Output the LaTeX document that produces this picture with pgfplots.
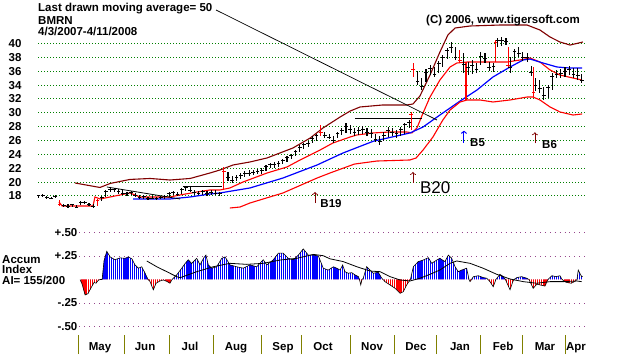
\documentclass[border=0pt]{standalone}
\usepackage{pgfplots}
\pgfplotsset{compat=1.18}
\usepackage{pgfplotstable}
\usepackage{fontspec}
\setmainfont{Liberation Sans}
\usetikzlibrary{patterns.meta,arrows.meta}

\definecolor{maroonband}{RGB}{128,0,0}
\definecolor{gridgreen}{RGB}{0,128,0}
\definecolor{sepolive}{RGB}{128,128,0}
\definecolor{aigrid}{RGB}{150,70,140}
\newcommand{\lbl}{\bfseries\fontsize{11.5}{12}\selectfont}

% trading day index d, low, high, close
\pgfplotstableread{
d l h c
0 17.7 18.2 18.0
2 17.8 18.3 18.1
4 17.6 18.0 17.8
6 17.5 17.9 17.7
8 17.7 18.1 17.9
12 16.4 16.9 16.6
14 16.3 16.8 16.5
16 16.4 16.9 16.7
18 16.2 16.7 16.4
20 16.7 17.2 17.0
22 16.8 17.3 17.1
24 16.5 17.0 16.7
26 16.3 16.8 16.5
30 17.3 18.0 17.8
32 17.8 18.8 18.6
34 18.5 19.3 19.0
36 18.6 19.2 18.9
38 18.3 19.0 18.7
40 18.2 18.8 18.4
42 18.0 18.6 18.3
44 18.1 18.7 18.5
46 17.8 18.4 18.0
48 17.6 18.2 17.8
50 17.6 18.1 17.9
52 17.4 17.9 17.6
54 17.5 18.0 17.7
56 17.4 17.9 17.6
58 17.5 18.0 17.8
60 17.6 18.1 17.9
62 17.9 18.6 18.4
64 18.1 18.7 18.5
66 18.0 18.6 18.2
68 18.3 19.2 19.0
70 18.7 19.5 19.2
72 18.5 19.3 18.8
74 18.2 18.9 18.5
76 18.1 18.7 18.4
78 18.2 18.9 18.6
80 18.0 18.7 18.3
82 18.2 18.9 18.5
84 18.1 18.8 18.4
86 18.0 18.6 18.3
90 20.2 21.5 20.6
92 19.9 20.9 20.2
94 20.1 21.0 20.6
96 20.5 21.3 21.0
98 20.8 21.6 21.2
100 20.9 21.7 21.3
102 21.0 21.8 21.4
104 21.1 21.9 21.5
106 21.2 22.0 21.7
108 21.6 22.5 22.2
110 22.0 22.8 22.5
112 22.1 22.9 22.6
114 22.2 23.0 22.7
116 22.6 23.4 23.1
118 22.9 23.8 23.5
120 23.3 24.1 23.8
122 23.8 24.7 24.4
124 24.4 25.3 25.0
126 24.8 25.7 25.4
128 25.1 25.9 25.6
130 25.6 26.6 26.3
132 26.0 27.0 26.7
136 26.3 27.2 26.7
138 26.2 27.0 26.5
140 25.7 26.6 26.0
142 26.3 27.3 27.0
144 26.8 27.8 27.5
146 27.1 28.5 28.0
148 27.0 28.3 27.6
150 26.6 27.8 27.2
152 26.8 28.0 27.5
154 27.0 28.1 27.6
156 26.6 27.8 27.1
158 26.4 27.6 27.0
160 25.8 27.0 26.2
162 25.4 26.6 25.9
164 26.0 27.2 26.8
166 26.5 27.9 27.5
168 26.6 27.8 27.1
170 26.3 27.5 27.0
172 26.6 28.0 27.6
174 26.9 28.6 28.3
176 27.8 29.0 28.6
180 34.0 36.0 34.5
182 33.3 35.0 33.8
184 34.5 36.3 35.8
186 35.5 36.9 36.4
188 35.2 36.6 35.5
190 35.7 37.5 37.1
192 36.6 38.3 38.0
194 37.8 39.4 39.0
196 38.6 40.2 39.5
198 37.6 39.5 38.0
202 35.8 38.6 37.0
204 35.5 37.4 36.5
206 35.6 37.6 36.8
208 35.8 37.2 36.3
210 36.9 38.8 38.2
212 37.2 38.6 37.8
214 36.0 37.3 36.5
216 35.9 37.2 36.7
218 39.5 40.8 40.4
220 39.7 41.0 40.5
222 39.8 40.8 40.3
224 35.8 38.0 36.5
226 37.5 39.2 38.8
228 38.0 39.5 38.6
230 37.5 38.8 38.0
232 37.3 38.6 38.0
234 35.3 36.8 35.8
236 33.2 35.0 34.0
238 32.9 34.7 33.5
240 31.8 33.7 32.5
242 32.2 34.0 33.6
244 33.3 35.8 35.3
246 35.0 36.2 35.6
248 35.0 36.3 35.7
250 35.2 36.6 36.0
252 35.4 36.8 36.2
254 35.0 36.5 35.6
256 34.8 36.5 35.4
258 34.3 35.6 34.6
}\bars

\pgfplotstableread{
d l h c
10 16.6 17.4 16.8
28 16.6 17.5 17.3
88 18.9 22.2 21.5
134 26.6 28.2 27.2
177 27.5 30.1 29.8
178 35.2 37.2 36.2
200 37.2 39.1 37.5
203 31.9 37.4 34.0
217 37.3 40.5 40.2
223 36.6 39.5 36.8
235 32.3 36.6 33.0
}\redbars

\pgfplotstableread{
d v
19.7 0
20.7 -0.05
22.1 -0.165
23.5 -0.15
24.9 -0.09
26.4 -0.03
27.3 -0.04
28.3 -0.01
29.2 0
30.2 0
31.1 0.2
32.4 0.30
34.0 0.24
36.3 0.21
38.7 0.23
41.1 0.225
42.6 0.24
44.3 0.22
45.8 0.155
47.4 0.12
49.0 0.135
50.6 0.066
51.7 0.013
52.0 0
52.9 -0.02
54.5 -0.11
55.8 -0.04
57.7 -0.015
59.3 -0.005
60.9 -0.02
62.4 -0.04
63.4 0
65.6 0.048
68.0 0.12
69.6 0.17
71.1 0.21
72.7 0.17
75.1 0.225
76.7 0.155
78.3 0.225
79.5 0.26
80.6 0.155
82.2 0.12
84.6 0.135
87.0 0.225
88.6 0.24
90.9 0.155
94.1 0.135
97.2 0.12
100.4 0.155
103.6 0.135
106.7 0.21
108.4 0.155
111.5 0.21
113.9 0.28
116.2 0.28
118.6 0.225
121.0 0.21
123.4 0.26
125.7 0.325
128.1 0.26
130.5 0.26
132.9 0.25
135.2 0.12
137.6 0.10
140.0 0.135
141.6 0.12
143.2 0.10
144.4 0.155
145.5 0.083
147.1 0.066
148.7 0.073
150.3 0.048
151.9 0.03
152.4 0
153.0 -0.058
153.6 0
154.2 0.013
155.8 0.136
157.4 0.10
159.0 0.066
161.3 0.077
163.0 0.013
163.6 0
164.5 -0.023
166.9 -0.058
169.3 -0.094
171.7 -0.147
173.2 -0.13
174.8 -0.058
176.4 -0.005
176.6 0
178.0 0.136
180.3 0.19
182.7 0.207
185.1 0.232
186.7 0.172
189.1 0.207
190.6 0.225
193.0 0.19
194.6 0.26
196.2 0.225
197.8 0.136
199.3 0.083
200.9 0.10
203.3 0.12
204.4 0
204.9 -0.023
205.6 0
206.5 0.03
208.8 0.04
211.2 0.02
212.8 0.013
213.4 0
214.4 -0.023
215.9 -0.077
217.2 0
219.1 0.055
220.7 0.03
221.7 0
223.9 -0.11
225.2 -0.023
225.8 0
227.1 0.02
229.4 0.03
231.8 0.013
232.9 0
234.9 -0.094
236.6 -0.05
238.6 -0.06
240.5 -0.07
241.9 0
243.8 0.04
245.7 0.03
247.6 0.04
248.6 0
250.5 -0.03
252.9 -0.04
254.8 -0.02
255.7 0
256.3 0.10
257.9 0.03
258.5 0.03
}\ai

\pgfplotstableread{
d v
51.4 0.197
56.1 0.136
60.9 0.083
65.6 0.030
67.2 0.019
75.1 0.083
83.0 0.136
90.9 0.172
98.9 0.161
106.7 0.172
114.7 0.207
122.6 0.225
130.5 0.267
135.2 0.253
138.4 0.22
144.6 0.191
151.1 0.136
157.4 0.090
162.2 0.083
166.9 0.030
171.7 -0.005
176.4 -0.016
181.1 0.013
185.9 0.055
190.6 0.101
195.4 0.172
198.6 0.197
204.9 0.172
211.2 0.119
217.6 0.055
223.9 0.005
230.2 -0.023
236.6 -0.04
242.9 -0.023
249.2 -0.023
255.6 -0.016
257.9 -0.023
}\aima

\begin{document}
\begin{tikzpicture}
\path[use as bounding box] (0pt,0pt) rectangle (620pt,354pt);

% ---------------- price panel ----------------
\begin{axis}[
  at={(38pt,144pt)}, anchor=south west,
  scale only axis, width=547pt, height=205pt,
  xmin=-0.24, xmax=259.5, ymin=15.97, ymax=45.56,
  axis line style={draw=none}, tick style={draw=none},
  xtick=\empty,
  ytick={18,20,22,24,26,28,30,32,34,36,38,40},
  yticklabels={18,20,22,24,26,28,30,32,34,36,38,40},
  yticklabel style={font=\lbl, xshift=-13pt},
  ymajorgrids, grid style={gridgreen, line width=0.9pt, dash pattern=on 0.9pt off 2.1pt},
  clip=false,
]
% outer band
\addplot[maroonband, line width=1.1pt] coordinates {
(17.3,19.87) (29.2,19.22) (34,19.80) (43.4,20.38) (53,20.52) (62.4,20.30) (72,20.52)
(81.4,21.31) (86.2,21.75) (92.4,22.47) (100.4,22.90) (108.5,23.48) (120.8,24.92)
(129,26.36) (135.1,27.81) (143.2,29.39) (148,30.26) (152.7,30.84) (163.5,31.13)
(174.9,31.13) (177.8,31.27) (181.1,32.42) (185.9,35.45) (190.6,38.77) (194.4,41.23)
(197.8,42.24) (204.9,42.53) (219.1,42.67) (232,42.67) (238.1,41.95) (242.9,40.94)
(247.6,40.22) (252.4,39.78) (258.5,40.22)};
% upper red band
\addplot[red, line width=1.1pt] coordinates {
(9.7,17.13) (11.2,16.55) (25.9,16.55) (26.8,17.85) (29.2,17.56) (34,17.85) (43.4,18.43)
(48.2,17.85) (62.4,17.85) (67.2,18.14) (75.3,18.57) (81.4,18.86) (86.2,18.86) (90.9,19.15)
(97.1,20.01) (108.5,21.31) (118,22.18) (124.2,23.19) (133.7,24.63) (139.8,25.64)
(148,26.51) (151.2,26.80) (158.8,27.09) (166.9,27.23) (174.9,27.23) (177.3,27.09)
(179.7,27.81) (182.6,29.97) (185.9,32.28) (190.6,34.73) (195.4,36.61) (198.7,37.19)
(203.5,37.33) (215.8,37.33) (222.5,37.33) (228.6,37.62) (233.4,37.91) (238.1,37.33)
(242.9,36.18) (247.6,35.45) (253.8,35.02) (258.1,34.73)};
% 50-day moving average
\addplot[blue, line width=1.2pt] coordinates {
(44.9,17.56) (62.4,17.56) (72,17.85) (81.4,18.28) (86.2,18.43) (100.4,19.15)
(116.1,20.59) (132.3,22.47) (144.6,24.2) (159,25.9) (176.4,27.09) (182.6,27.95)
(190.6,29.68) (200.2,31.70) (208.2,33.29) (215.8,35.17) (223.9,36.61) (230.1,37.62)
(233.4,37.76) (239.5,37.19) (246.2,36.61) (252.4,36.46) (258.1,36.46)};
% lower red band
\addplot[red, line width=1.1pt] coordinates {
(90.9,16.26) (95.7,16.40) (100.4,16.98) (116.1,18.43) (132.3,20.59) (138.4,21.31)
(150,22.6) (160.7,23.04) (176.4,23.19) (179.3,23.48) (182.6,24.63) (187.3,26.51)
(192,28.96) (195.4,30.40) (200.2,31.56) (203.5,31.85) (209.6,31.85) (215.8,31.56)
(223.9,31.85) (232,32.28) (234.8,32.28) (238.1,31.85) (242.9,30.84) (247.6,30.12)
(253.8,29.68) (258.1,29.83)};
% trend lines
\addplot[black, line width=0.8pt] coordinates {(32.5,19.29) (67.2,17.56)};
\addplot[black, line width=0.8pt] coordinates {(68.6,19.44) (87.2,19.44)};
\addplot[black, line width=0.8pt] coordinates {(150.3,29.25) (182.2,29.25)};
% price bars
\addplot[black, only marks, mark=-, mark size=1.9pt, mark options={line width=0.9pt},
  error bars/.cd, y dir=both, y explicit, error mark=none,
  error bar style={black, line width=1.1pt}]
  table[x=d, y=c, y error plus expr=\thisrow{h}-\thisrow{c}, y error minus expr=\thisrow{c}-\thisrow{l}] {\bars};
\addplot[red, only marks, mark=-, mark size=1.9pt, mark options={line width=0.9pt},
  error bars/.cd, y dir=both, y explicit, error mark=none,
  error bar style={red, line width=1.1pt}]
  table[x=d, y=c, y error plus expr=\thisrow{h}-\thisrow{c}, y error minus expr=\thisrow{c}-\thisrow{l}] {\redbars};
% signal arrows
\addplot[maroonband, line width=0.7pt, -{To[length=3pt,width=6pt]}, quiver={u=\thisrow{u}, v=\thisrow{v}}]
  table {
x y u v
131.3 16.98 0 1.6
177.8 19.87 0 1.6
235.7 25.6 0 1.6
};
\addplot[blue, line width=1pt, -{To[length=3pt,width=6pt]}, quiver={u=\thisrow{u}, v=\thisrow{v}}]
  table {
x y u v
202.0 25.7 0 1.7
};
\node[anchor=base west, inner sep=0, font=\lbl] at (axis cs:133.8,16.37) {B19};
\node[anchor=base west, inner sep=0, font=\fontsize{17}{18}\selectfont] at (axis cs:181.1,18.28) {B20};
\node[anchor=base west, inner sep=0, font=\lbl] at (axis cs:204.9,25.14) {B5};
\node[anchor=base west, inner sep=0, font=\lbl] at (axis cs:239.1,24.85) {B6};
\end{axis}

% ---------------- accumulation index panel ----------------
\begin{axis}[
  at={(79.4pt,22pt)}, anchor=south west,
  scale only axis, width=505.6pt, height=104pt,
  xmin=19.4, xmax=259.5, ymin=-0.559, ymax=0.548,
  axis line style={draw=none}, tick style={draw=none},
  xtick=\empty,
  ytick={-0.5,-0.25,0.25,0.5},
  yticklabels={-.50,-.25,+.25,+.50},
  yticklabel style={font=\lbl, xshift=1.5pt},
  ymajorgrids, grid style={aigrid, line width=0.9pt, dash pattern=on 0.9pt off 4pt},
]
\addplot[draw=none, pattern={Lines[angle=90,distance=2.1pt,line width=1.3pt]}, pattern color=blue]
  table[x=d, y expr={max(\thisrow{v},0)}] {\ai} \closedcycle;
\addplot[draw=none, pattern={Lines[angle=90,distance=2.1pt,line width=1.3pt]}, pattern color=red]
  table[x=d, y expr={min(\thisrow{v},0)}] {\ai} \closedcycle;
\addplot[black, line width=0.6pt] table[x=d, y=v] {\ai};
\addplot[black, line width=0.8pt] table[x=d, y=v] {\aima};
\end{axis}

% ---------------- month strip ----------------
\begin{axis}[
  at={(38pt,0pt)}, anchor=south west,
  scale only axis, width=547pt, height=19pt,
  xmin=-0.24, xmax=259.5, ymin=0, ymax=1,
  axis line style={draw=none}, tick style={draw=none},
  xtick=\empty, ytick=\empty,
]
\addplot[ycomb, sepolive, line width=1pt] coordinates {
(19,1) (41,1) (62,1) (83,1) (106,1) (125,1) (148,1) (169,1) (189,1) (210,1) (230,1) (250,1)};
\node[anchor=base, inner sep=0, font=\lbl] at (axis cs:29.2,0.21) {May};
\node[anchor=base, inner sep=0, font=\lbl] at (axis cs:50.6,0.21) {Jun};
\node[anchor=base, inner sep=0, font=\lbl] at (axis cs:71.9,0.21) {Jul};
\node[anchor=base, inner sep=0, font=\lbl] at (axis cs:93.8,0.21) {Aug};
\node[anchor=base, inner sep=0, font=\lbl] at (axis cs:116.1,0.21) {Sep};
\node[anchor=base, inner sep=0, font=\lbl] at (axis cs:135.1,0.21) {Oct};
\node[anchor=base, inner sep=0, font=\lbl] at (axis cs:158.4,0.21) {Nov};
\node[anchor=base, inner sep=0, font=\lbl] at (axis cs:179.2,0.21) {Dec};
\node[anchor=base, inner sep=0, font=\lbl] at (axis cs:200.1,0.21) {Jan};
\node[anchor=base, inner sep=0, font=\lbl] at (axis cs:220.6,0.21) {Feb};
\node[anchor=base, inner sep=0, font=\lbl] at (axis cs:240.5,0.21) {Mar};
\node[anchor=base, inner sep=0, font=\lbl] at (axis cs:255.2,0.21) {Apr};
\end{axis}

% ---------------- texts ----------------
\draw[black, line width=0.7pt] (216pt,344pt) -- (437pt,234pt);
\node[anchor=base west, inner sep=0, font=\lbl] at (38pt,342.3pt) {Last drawn moving average= 50};
\node[anchor=base west, inner sep=0, font=\lbl] at (38pt,329pt) {BMRN};
\node[anchor=base west, inner sep=0, font=\lbl] at (38pt,318.3pt) {4/3/2007-4/11/2008};
\node[anchor=base east, inner sep=0, font=\lbl] at (580pt,330.5pt) {(C) 2006, www.tigersoft.com};
\node[anchor=base west, inner sep=0, font=\lbl] at (2pt,91pt) {Accum};
\node[anchor=base west, inner sep=0, font=\lbl] at (2pt,81pt) {Index};
\node[anchor=base west, inner sep=0, font=\lbl] at (2pt,70pt) {AI= 155/200};
\end{tikzpicture}
\end{document}
